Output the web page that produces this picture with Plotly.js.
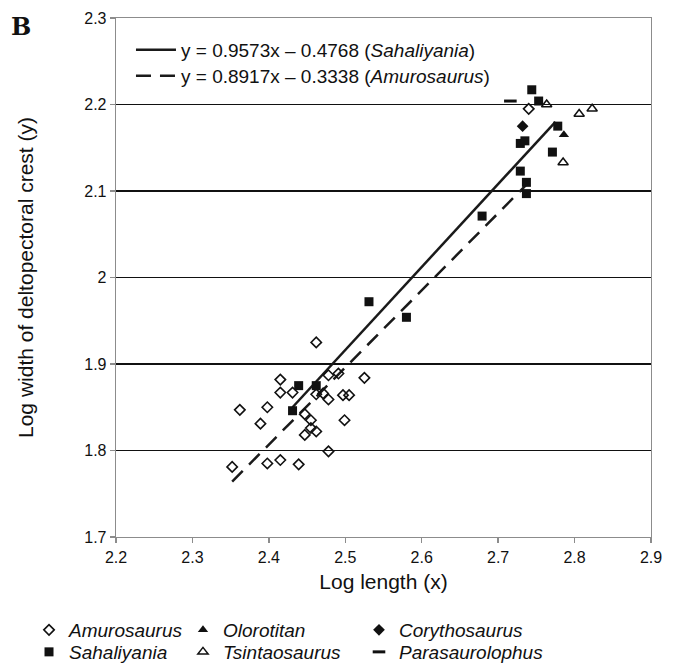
<!DOCTYPE html>
<html>
<head>
<meta charset="utf-8">
<script src="https://cdn.plot.ly/plotly-3.0.1.min.js"></script>
<style>html,body{margin:0;padding:0;background:#fff;}#chart{width:678px;height:668px;}</style>
</head>
<body>
<div id="chart"></div>
<script>
// ---- data ----
const amurosaurusX = [2.352, 2.362, 2.389, 2.398, 2.398, 2.415, 2.415, 2.415, 2.431, 2.439, 2.447, 2.447, 2.455, 2.455, 2.462, 2.462, 2.462, 2.471, 2.478, 2.478, 2.478, 2.491, 2.497, 2.505, 2.499, 2.525, 2.740];
const amurosaurusY = [1.781, 1.847, 1.831, 1.850, 1.785, 1.882, 1.867, 1.789, 1.867, 1.784, 1.842, 1.818, 1.835, 1.826, 1.822, 1.925, 1.865, 1.866, 1.887, 1.859, 1.799, 1.889, 1.864, 1.864, 1.835, 1.884, 2.195];
const sahaliyaniaX = [2.431, 2.439, 2.462, 2.531, 2.580, 2.679, 2.729, 2.737, 2.737, 2.729, 2.735, 2.771, 2.778, 2.744, 2.753];
const sahaliyaniaY = [1.846, 1.875, 1.875, 1.972, 1.954, 2.071, 2.123, 2.110, 2.097, 2.155, 2.158, 2.145, 2.175, 2.217, 2.204];
const olorotitanX = [2.786];
const olorotitanY = [2.165];
const tsintaosaurusX = [2.7635, 2.806, 2.823, 2.785];
const tsintaosaurusY = [2.200, 2.189, 2.195, 2.133];
const corythosaurusX = [2.732];
const corythosaurusY = [2.175];
const parasaurolophusX = [2.716];
const parasaurolophusY = [2.204];
// regression lines (end points as drawn)
const sahaliyaniaFitX = [2.431, 2.775];
const sahaliyaniaFitY = [1.850, 2.180];
const amurosaurusFitX = [2.352, 2.740];
const amurosaurusFitY = [1.764, 2.110];
const sahaliyaniaFitLabel = 'y = 0.9573x – 0.4768 (<i>Sahaliyania</i>)';
const amurosaurusFitLabel = 'y = 0.8917x – 0.3338 (<i>Amurosaurus</i>)';
const xTicks = [2.2, 2.3, 2.4, 2.5, 2.6, 2.7, 2.8, 2.9];
const yTicks = [1.7, 1.8, 1.9, 2, 2.1, 2.2, 2.3];

const FONT = 'Liberation Sans, Arial, sans-serif';
const INK = '#111';
const traces = [
  {x: sahaliyaniaFitX, y: sahaliyaniaFitY, mode: 'lines', name: sahaliyaniaFitLabel,
   line: {color: '#1a1a1a', width: 2.5}, legend: 'legend'},
  {x: amurosaurusFitX, y: amurosaurusFitY, mode: 'lines', name: amurosaurusFitLabel,
   line: {color: '#1a1a1a', width: 2.5, dash: '15px,9px'}, legend: 'legend8'},
  {x: amurosaurusX, y: amurosaurusY, mode: 'markers', name: '<i>Amurosaurus</i>', legend: 'legend2',
   marker: {symbol: 'diamond-open', size: 8, color: INK, line: {width: 1.6, color: INK}}},
  {x: sahaliyaniaX, y: sahaliyaniaY, mode: 'markers', name: '<i>Sahaliyania</i>', legend: 'legend3',
   marker: {symbol: 'square', size: 9, color: INK}},
  {x: olorotitanX, y: olorotitanY, mode: 'markers', name: '<i>Olorotitan</i>', legend: 'legend4',
   marker: {symbol: 'triangle-up', size: 9, color: INK}},
  {x: tsintaosaurusX, y: tsintaosaurusY, mode: 'markers', name: '<i>Tsintaosaurus</i>', legend: 'legend5',
   marker: {symbol: 'triangle-up-open', size: 9, color: INK, line: {width: 1.5, color: INK}}},
  {x: corythosaurusX, y: corythosaurusY, mode: 'markers', name: '<i>Corythosaurus</i>', legend: 'legend6',
   marker: {symbol: 'diamond', size: 9, color: INK}},
  {x: parasaurolophusX, y: parasaurolophusY, mode: 'markers', name: '<i>Parasaurolophus</i>', legend: 'legend7',
   marker: {symbol: 'line-ew', size: 9, color: INK, line: {width: 3, color: INK}}}
];

function lg(x, y, size, extra) {
  return Object.assign({bgcolor: 'rgba(0,0,0,0)', borderwidth: 0, font: {family: FONT, size: size, color: INK},
    xref: 'paper', yref: 'paper', x: x, y: y, xanchor: 'left', yanchor: 'middle', itemclick: false}, extra || {});
}
const row1 = -0.1792, row2 = -0.2216;
const col1 = -0.1626, col2 = 0.1252, col3 = 0.4542;

const layout = {
  width: 678, height: 668,
  margin: {l: 116, r: 27, t: 18, b: 131, autoexpand: false},
  paper_bgcolor: '#fff', plot_bgcolor: '#fff',
  font: {family: FONT, size: 16, color: INK},
  showlegend: true,
  xaxis: {range: [2.2, 2.9], tickvals: xTicks, ticktext: xTicks.map(v => v.toFixed(1)),
    showgrid: false, zeroline: false, showline: true, linecolor: '#8c8c8c', linewidth: 1.3,
    mirror: true, ticks: 'outside', ticklen: 5, tickcolor: '#8c8c8c', tickwidth: 1.3,
    tickfont: {family: FONT, size: 16, color: INK},
    title: {text: 'Log length (x)', font: {family: FONT, size: 21, color: INK}, standoff: 9}},
  yaxis: {range: [1.7, 2.3], tickvals: yTicks, ticktext: yTicks.map(v => String(v)),
    showgrid: true, gridcolor: '#111', gridwidth: 1.2, zeroline: false, showline: true,
    linecolor: '#8c8c8c', linewidth: 1.3, mirror: true, ticks: 'outside', ticklen: 5,
    tickcolor: '#8c8c8c', tickwidth: 1.3,
    tickfont: {family: FONT, size: 16, color: INK},
    title: {text: 'Log width of deltopectoral crest (y)', font: {family: FONT, size: 21, color: INK}, standoff: 45}},
  legend: lg(0.028, 0.9383, 19, {itemwidth: 40}),
  legend8: lg(0.028, 0.8882, 19, {itemwidth: 40}),
  legend2: lg(col1, row1, 19),
  legend3: lg(col1, row2, 19),
  legend4: lg(col2, row1, 19),
  legend5: lg(col2, row2, 19),
  legend6: lg(col3, row1, 19),
  legend7: lg(col3, row2, 19),
  annotations: [
    {text: '<b>B</b>', xref: 'paper', yref: 'paper', x: -0.2, y: 1.015, xanchor: 'left', yanchor: 'top',
     showarrow: false, font: {family: 'DejaVu Serif, Liberation Serif, serif', size: 24, color: INK}}
  ]
};

Plotly.newPlot('chart', traces, layout, {staticPlot: true, displayModeBar: false});
</script>
</body>
</html>
